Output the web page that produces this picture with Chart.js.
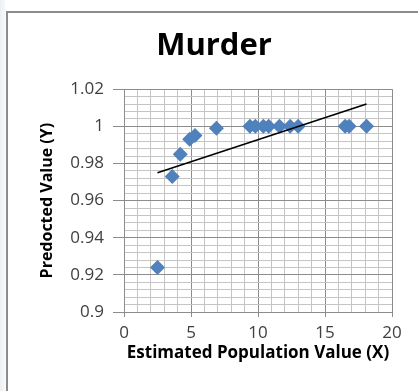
<!DOCTYPE html>
<html>
<head>
<meta charset="utf-8">
<script src="https://cdn.jsdelivr.net/npm/chart.js@4"></script>
<style>
  html, body { margin: 0; padding: 0; background: #fff; }
  body { width: 418px; height: 391px; position: relative; overflow: hidden;
         background: linear-gradient(to right, #eceff2 0px, #f7f8f9 5px, #fff 6px); }
  #frame { position: absolute; left: 6px; top: 11px; right: -10px; bottom: -10px;
           border-left: 2px solid #8c8c8c; border-top: 2px solid #8c8c8c; background: #fff; }
  #c { position: absolute; left: 0; top: 0; }
</style>
</head>
<body>
<div id="frame"></div>
<canvas id="c" width="418" height="391"></canvas>
<script>
// Data
const xValues = [2.5, 3.6, 4.2, 4.9, 5.3, 6.9, 9.4, 9.8, 10.4, 10.8, 11.6, 12.4, 13.0, 16.5, 16.8, 18.1];
const yValues = [0.924, 0.973, 0.985, 0.993, 0.995, 0.999, 1, 1, 1, 1, 1, 1, 1, 1, 1, 1];
const trendX = [2.5, 18.1];
const trendY = [0.975, 1.012];
const xTickLabels = [0, 5, 10, 15, 20];
const yTickLabels = [0.9, 0.92, 0.94, 0.96, 0.98, 1, 1.02];

const isMajorX = v => xTickLabels.some(t => Math.abs(t - v) < 1e-6);
const isMajorY = v => yTickLabels.some(t => Math.abs(t - v) < 1e-6);

const points = xValues.map((x, i) => ({ x: x, y: yValues[i] }));
const trend = trendX.map((x, i) => ({ x: x, y: trendY[i] }));

new Chart(document.getElementById('c'), {
  type: 'scatter',
  data: {
    datasets: [
      { data: points, pointStyle: 'rectRot', pointRadius: 7.5, pointHoverRadius: 7.5,
        backgroundColor: '#4F81BD', borderColor: '#4F81BD', borderWidth: 0, order: 1 },
      { type: 'line', data: trend, showLine: true, borderColor: '#000', borderWidth: 1.5,
        pointRadius: 0, fill: false, order: 0 }
    ]
  },
  options: {
    responsive: false,
    animation: false,
    devicePixelRatio: 1,
    layout: { padding: { left: 36, right: 26, top: 0, bottom: 28 } },
    plugins: {
      legend: { display: false },
      tooltip: { enabled: false },
      title: {
        display: true, text: 'Murder', color: '#000',
        font: { family: 'Open Sans', size: 31, weight: 'bold' },
        padding: { top: 28, bottom: 24 }
      }
    },
    scales: {
      x: {
        type: 'linear', min: 0, max: 20,
        ticks: {
          stepSize: 1, autoSkip: false, maxRotation: 0, padding: 6,
          color: '#404040', font: { family: 'Open Sans', size: 17 },
          callback: v => isMajorX(v) ? String(v) : ''
        },
        grid: {
          color: ctx => isMajorX(ctx.tick.value) ? '#8c8c8c' : '#c4c4c4',
          tickColor: ctx => isMajorX(ctx.tick.value) ? '#8c8c8c' : 'rgba(0,0,0,0)',
          tickLength: 5, lineWidth: 1
        },
        border: { color: '#8c8c8c', width: 1 },
        title: {
          display: true, text: 'Estimated Population Value (X)', color: '#000',
          font: { family: 'Open Sans', size: 17, weight: 'bold' }, padding: { top: 2, bottom: 0 }
        },
        afterFit: s => { s.height = 391 - 312 - 28; }
      },
      y: {
        type: 'linear', min: 0.9, max: 1.02,
        ticks: {
          stepSize: 0.004, autoSkip: false, padding: 9,
          color: '#404040', font: { family: 'Open Sans', size: 17 },
          callback: v => isMajorY(v) ? String(Number(v.toFixed(2))) : ''
        },
        grid: {
          color: ctx => isMajorY(ctx.tick.value) ? '#8c8c8c' : '#c4c4c4',
          tickColor: ctx => isMajorY(ctx.tick.value) ? '#8c8c8c' : 'rgba(0,0,0,0)',
          tickLength: 11, lineWidth: 1
        },
        border: { color: '#8c8c8c', width: 1 },
        title: {
          display: true, text: 'Predocted Value (Y)', color: '#000',
          font: { family: 'Open Sans', size: 16, weight: 'bold' }, padding: { top: 2, bottom: 0 }
        },
        afterFit: s => { s.width = 124 - 36; }
      }
    }
  }
});
</script>
</body>
</html>
